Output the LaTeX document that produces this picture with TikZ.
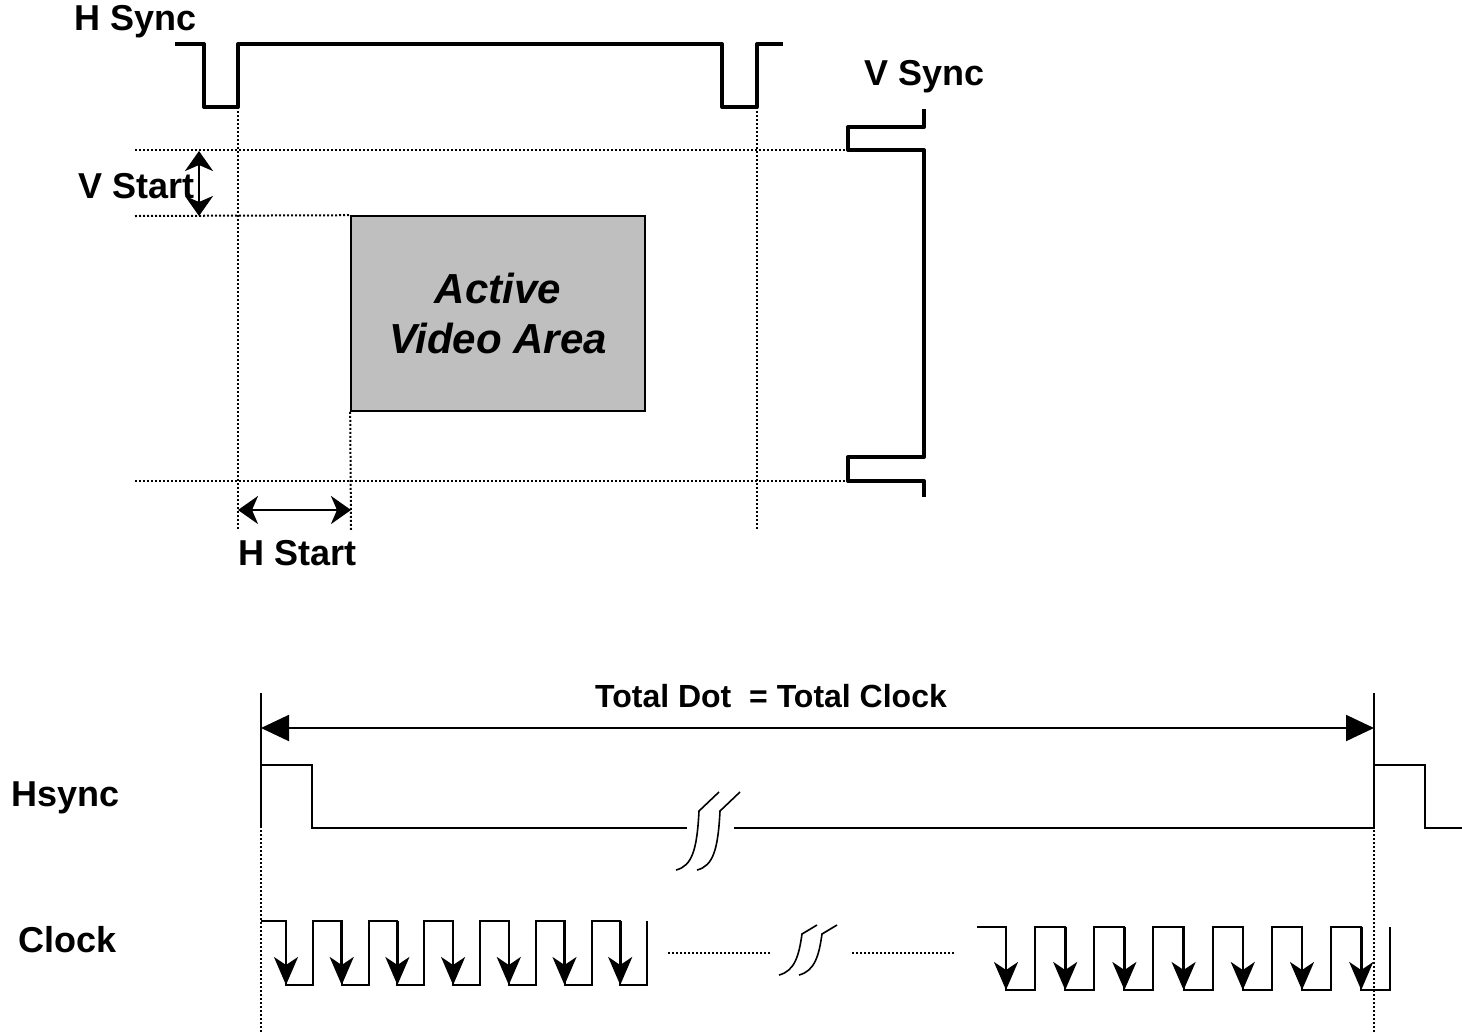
\documentclass[tikz,border=0pt]{standalone}
\usepackage{fontspec}
\setmainfont{Liberation Sans}
\usetikzlibrary{arrows.meta,positioning,calc}

\begin{document}
\begin{tikzpicture}[x=0.5pt,y=-0.5pt,
    lbl/.style={font=\fontsize{18}{21}\selectfont\bfseries, inner sep=0pt},
    sync/.style={line width=2pt, line join=round},
    wave/.style={line width=1pt},
    dots/.style={line width=1pt, dash pattern=on 1pt off 1pt},
    active/.style={draw, fill=black!25, line width=0.8pt, minimum width=147pt, minimum height=97.5pt,
      align=center, font=\fontsize{21}{25}\selectfont\bfseries\itshape},
    span/.style={{Stealth[length=10pt,width=14pt,inset=3pt]}-{Stealth[length=10pt,width=14pt,inset=3pt]}, line width=1.3pt},
    total/.style={{Triangle[length=14pt,width=13pt]}-{Triangle[length=14pt,width=13pt]}, line width=1pt},
    edge/.style={-{Stealth[length=14pt,width=12pt,inset=4pt]}, line width=1.3pt},
    brk/.style={line width=0.8pt},
  ]
  \useasboundingbox (0,0) rectangle (1462,1034);

  % Frame
  \node[active] (area) at (498,313.5) {Active\\Video Area};
  \coordinate (hl) at (238,107);
  \coordinate (hr) at (757,107);
  \draw[dots] (hl) -- (238,530);
  \draw[dots] (hr) -- (757,530);
  \draw[dots] (area.south west) -- (351,530);
  \draw[dots] (135,150) -- (848,150);
  \draw[dots] (135,216) -- (area.north west);
  \draw[dots] (135,481) -- (848,481);

  % H sync / V sync
  \draw[sync] (175,44) -- (204,44) -- (204,107) -- (hl) -- (238,44) -- (722,44) -- (722,107) -- (hr) -- (757,44) -- (783,44);
  \draw[sync] (924,109) -- (924,127) -- (848,127) -- (848,150) -- (924,150) -- (924,457) -- (848,457) -- (848,481) -- (924,481) -- (924,497);
  \node[lbl] (hsynclbl) at (136,22) {H Sync};
  \node[lbl] (vsynclbl) at (925,77) {V Sync};

  % Start offsets
  \coordinate (vs1) at (199,151);
  \coordinate (vs2) at (199,216);
  \coordinate (hs1) at (238,510);
  \coordinate (hs2) at (351,510);
  \draw[span] (vs1) -- (vs2);
  \draw[span] (hs1) -- (hs2);
  \node[lbl] (vstart) at (137,186) {V Start};
  \node[lbl] (hstart) at (298,553) {H Start};

  % Total line
  \coordinate (t1) at (261,728);
  \coordinate (t2) at (1374,728);
  \draw[wave] (261,693) -- (261,828);
  \draw[wave] (1374,693) -- (1374,828);
  \draw[total] (t1) -- (t2);
  \node[font=\fontsize{16}{19}\selectfont\bfseries, inner sep=0pt] (totallbl) at (771,696) {Total Dot\ \ = Total Clock};
  \draw[dots] (261,830) -- (261,1034);
  \draw[dots] (1374,830) -- (1374,1034);

  % Hsync
  \node[lbl] (hsync) at (66,798) {Hsync};
  \draw[wave] (261,765) -- (312,765) -- (312,828) -- (687,828);
  \draw[wave] (734,828) -- (1374,828) -- (1374,765) -- (1425,765) -- (1425,828) -- (1462,828);
  \foreach \d in {0,21}
    \draw[brk] ({676+\d},870) .. controls ({692+\d},866) and ({697+\d},850) .. ({699+\d},811) -- ({719+\d},792);

  % Clock
  \node[lbl] (clock) at (68,940) {Clock};
  \draw[wave] (261,921) \foreach \i in {0,...,6} {
      -- ({286+55.7*\i},921) -- ({286+55.7*\i},985) -- ({313+55.7*\i},985) -- ({313+55.7*\i},921)};
  \foreach \i in {0,...,6}
    \draw[edge] ({286+55.7*\i},921) -- ({286+55.7*\i},985);
  \draw[dots] (668,953) -- (771,953);
  \foreach \d in {0,20}
    \draw[brk] ({779+\d},975) .. controls ({795+\d},971) and ({799+\d},955) .. ({802+\d},934) -- ({817+\d},925);
  \draw[dots] (852,953) -- (955,953);
  \draw[wave] (977,927) \foreach \i in {0,...,6} {
      -- ({1006+59.2*\i},927) -- ({1006+59.2*\i},990) -- ({1035+59.2*\i},990) -- ({1035+59.2*\i},927)};
  \foreach \i in {0,...,6}
    \draw[edge] ({1006+59.2*\i},927) -- ({1006+59.2*\i},990);
\end{tikzpicture}
\end{document}
